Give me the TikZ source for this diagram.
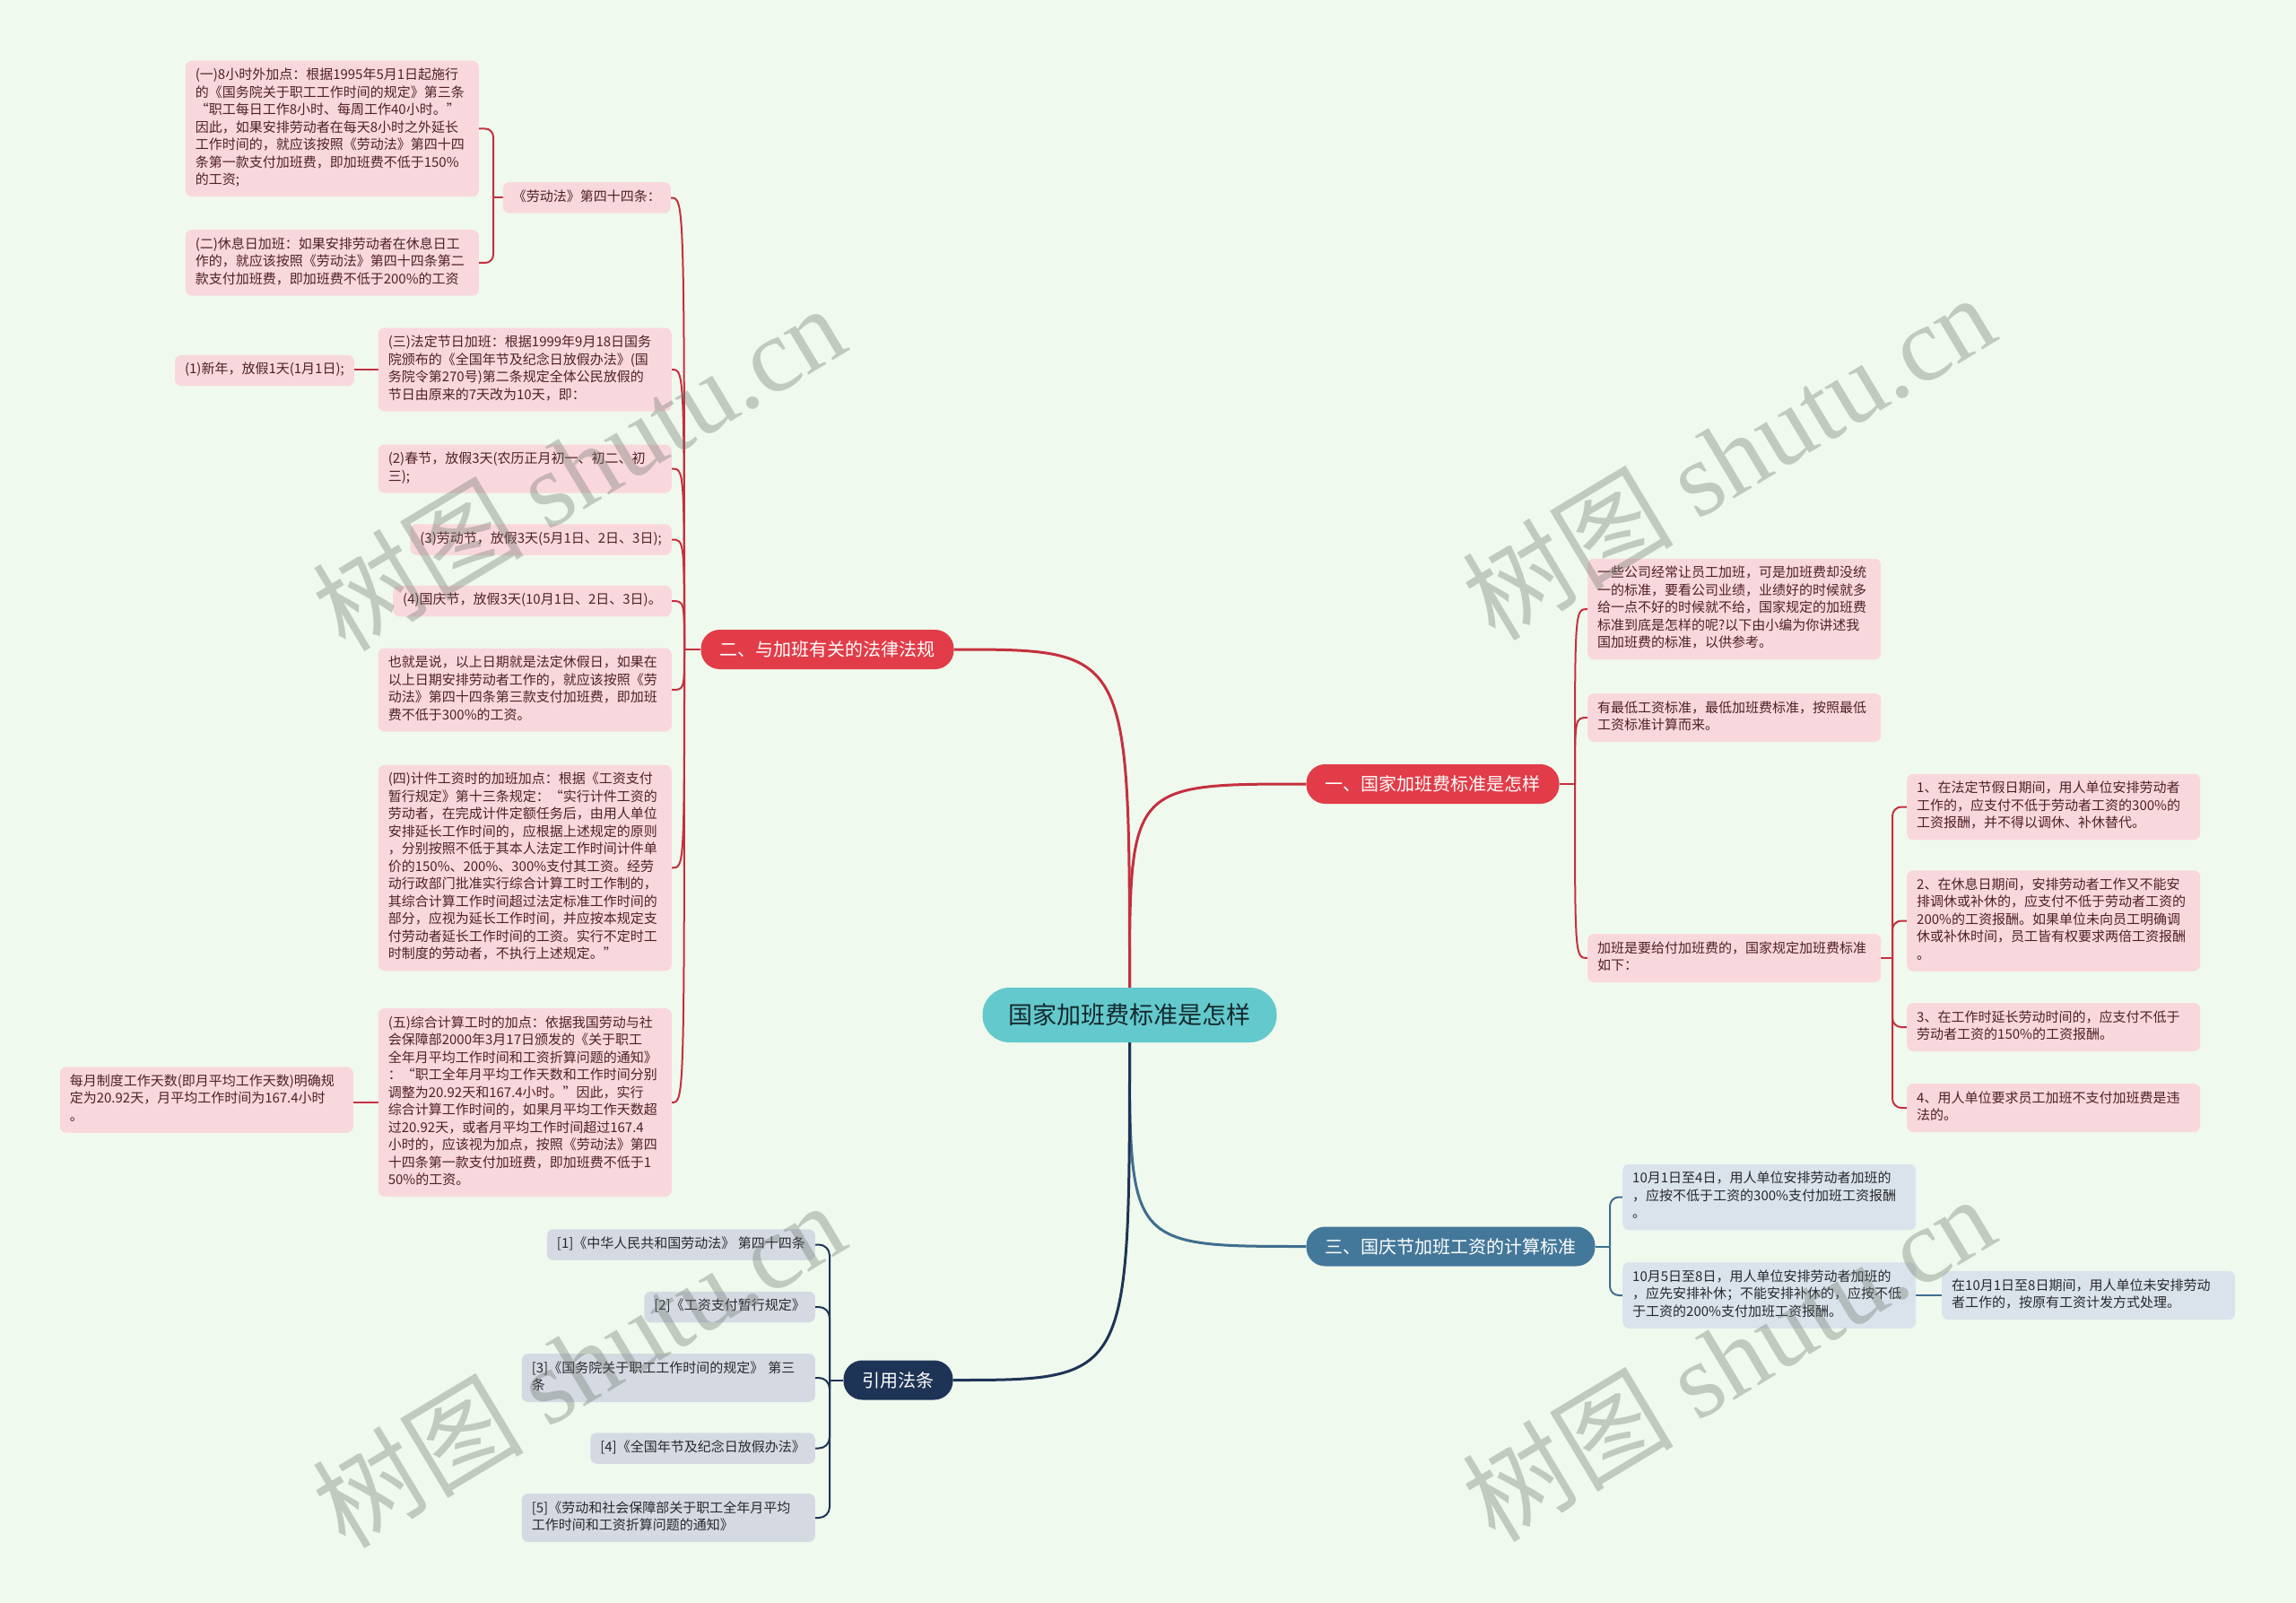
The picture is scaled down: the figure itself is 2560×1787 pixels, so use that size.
\documentclass[tikz,border=0pt]{standalone}
\usepackage{fontspec}
\setmainfont{Noto Sans CJK SC}
\newfontfamily\wmserif{Liberation Serif}
\usetikzlibrary{calc}
\definecolor{bgc}{RGB}{240,249,238}
\definecolor{pinkc}{RGB}{249,216,221}
\definecolor{pinktxt}{RGB}{78,32,38}
\definecolor{greyc}{RGB}{218,227,235}
\definecolor{greyc2}{RGB}{213,218,226}
\definecolor{greytxt}{RGB}{40,40,45}
\definecolor{redb}{RGB}{226,60,72}
\definecolor{redl}{RGB}{196,48,62}
\definecolor{blueb}{RGB}{68,120,154}
\definecolor{bluel}{RGB}{62,110,142}
\definecolor{navyb}{RGB}{30,52,86}
\definecolor{rootc}{RGB}{99,201,204}
\definecolor{roottxt}{RGB}{20,40,45}
\definecolor{wmc}{RGB}{110,120,110}
\pgfdeclarelayer{bgl}
\pgfdeclarelayer{edges}
\pgfdeclarelayer{wm}
\pgfsetlayers{bgl,edges,main,wm}
\begin{document}
\begin{tikzpicture}[x=1pt,y=-1pt,
  box/.style={rounded corners=7, inner xsep=11, inner ysep=7.5,
    font=\fontsize{15}{19.5}\selectfont, align=left,
    execute at begin node=\strut, execute at end node=\strut},
  pk/.style={box, fill=pinkc, text=pinktxt},
  pkw/.style={pk, text width=305},
  gy/.style={box, fill=greyc, text=greytxt},
  gyw/.style={gy, text width=305},
  gf/.style={box, fill=greyc2, text=greytxt},
  gfw/.style={gf, text width=305},
  br/.style={rounded corners=21, minimum height=44, inner xsep=21, inner ysep=0,
    text=white, font=\fontsize{20}{24}\selectfont},
  rootn/.style={rounded corners=30, minimum height=61, minimum width=328, inner ysep=0,
    fill=rootc, text=roottxt, font=\fontsize{27}{30}\selectfont},
  cred/.style={draw=redl, line width=2pt},
  cblue/.style={draw=bluel, line width=2pt},
  cnavy/.style={draw=navyb, line width=2pt},
  wmark/.style={text=wmc, text opacity=0.36, rotate=31, inner sep=0,
    font=\fontsize{118}{124}\selectfont}
]
\useasboundingbox (0,0) rectangle (2560,1787);
\begin{pgfonlayer}{bgl}
\fill[bgc] (0,0) rectangle (2560,1787);
\end{pgfonlayer}

% root and main branches
\node[rootn] (R) at (1259.5,1131.5) {国家加班费标准是怎样};
\node[br, fill=redb] (K1) at (1597.5,874) {一、国家加班费标准是怎样};
\node[br, fill=redb] (K2) at (922.5,724) {二、与加班有关的法律法规};
\node[br, fill=blueb] (K3) at (1617.5,1389.5) {三、国庆节加班工资的计算标准};
\node[br, fill=navyb] (K4) at (1001.5,1538.5) {引用法条};

% left side (branch two)
\node[pkw, anchor=east] (A1) at (534,143.5) {(一)8小时外加点：根据1995年5月1日起施行\\的《国务院关于职工工作时间的规定》第三条\\ “职工每日工作8小时、每周工作40小时。”\\因此，如果安排劳动者在每天8小时之外延长\\工作时间的，就应该按照《劳动法》第四十四\\条第一款支付加班费，即加班费不低于150\%\\的工资;};
\node[pkw, anchor=east] (A2) at (534,293) {(二)休息日加班：如果安排劳动者在休息日工\\作的，就应该按照《劳动法》第四十四条第二\\款支付加班费，即加班费不低于200\%的工资};
\node[pk, anchor=east] (A3) at (748,220.5) {《劳动法》第四十四条：};
\node[pkw, anchor=east] (B1) at (749,412) {(三)法定节日加班：根据1999年9月18日国务\\院颁布的《全国年节及纪念日放假办法》(国\\务院令第270号)第二条规定全体公民放假的\\节日由原来的7天改为10天，即：};
\node[pk, anchor=east] (B1c) at (395,413) {(1)新年，放假1天(1月1日);};
\node[pkw, anchor=east] (B2) at (749,522.5) {(2)春节，放假3天(农历正月初一、初二、初\\三);};
\node[pk, anchor=east] (B3) at (749,601.5) {(3)劳动节，放假3天(5月1日、2日、3日);};
\node[pk, anchor=east] (B4) at (749,670) {(4)国庆节，放假3天(10月1日、2日、3日)。};
\node[pkw, anchor=east] (B5) at (749,769) {也就是说，以上日期就是法定休假日，如果在\\以上日期安排劳动者工作的，就应该按照《劳\\动法》第四十四条第三款支付加班费，即加班\\费不低于300\%的工资。};
\node[pkw, anchor=east] (B6) at (749,967.5) {(四)计件工资时的加班加点：根据《工资支付\\暂行规定》第十三条规定：“实行计件工资的\\劳动者，在完成计件定额任务后，由用人单位\\安排延长工作时间的，应根据上述规定的原则\\，分别按照不低于其本人法定工作时间计件单\\价的150\%、200\%、300\%支付其工资。经劳\\动行政部门批准实行综合计算工时工作制的，\\其综合计算工作时间超过法定标准工作时间的\\部分，应视为延长工作时间，并应按本规定支\\付劳动者延长工作时间的工资。实行不定时工\\时制度的劳动者，不执行上述规定。”};
\node[pkw, anchor=east] (B7) at (749,1229) {(五)综合计算工时的加点：依据我国劳动与社\\会保障部2000年3月17日颁发的《关于职工\\全年月平均工作时间和工资折算问题的通知》\\：“职工全年月平均工作天数和工作时间分别\\调整为20.92天和167.4小时。”因此，实行\\综合计算工作时间的，如果月平均工作天数超\\过20.92天，或者月平均工作时间超过167.4\\小时的，应该视为加点，按照《劳动法》第四\\十四条第一款支付加班费，即加班费不低于1\\50\%的工资。};
\node[pkw, anchor=east] (B7c) at (394,1226) {每月制度工作天数(即月平均工作天数)明确规\\定为20.92天，月平均工作时间为167.4小时\\。};

% right side (branch one)
\node[pkw, anchor=west] (C1) at (1770,679) {一些公司经常让员工加班，可是加班费却没统\\一的标准，要看公司业绩，业绩好的时候就多\\给一点不好的时候就不给，国家规定的加班费\\标准到底是怎样的呢?以下由小编为你讲述我\\国加班费的标准，以供参考。};
\node[pkw, anchor=west] (C2) at (1770,800) {有最低工资标准，最低加班费标准，按照最低\\工资标准计算而来。};
\node[pkw, anchor=west] (C3) at (1770,1068) {加班是要给付加班费的，国家规定加班费标准\\如下：};
\node[pkw, anchor=west] (D1) at (2126,899.5) {1、在法定节假日期间，用人单位安排劳动者\\工作的，应支付不低于劳动者工资的300\%的\\工资报酬，并不得以调休、补休替代。};
\node[pkw, anchor=west] (D2) at (2126,1026.5) {2、在休息日期间，安排劳动者工作又不能安\\排调休或补休的，应支付不低于劳动者工资的\\200\%的工资报酬。如果单位未向员工明确调\\休或补休时间，员工皆有权要求两倍工资报酬\\。};
\node[pkw, anchor=west] (D3) at (2126,1145) {3、在工作时延长劳动时间的，应支付不低于\\劳动者工资的150\%的工资报酬。};
\node[pkw, anchor=west] (D4) at (2126,1235) {4、用人单位要求员工加班不支付加班费是违\\法的。};

% branch three
\node[gyw, anchor=west] (E1) at (1809,1334.5) {10月1日至4日，用人单位安排劳动者加班的\\，应按不低于工资的300\%支付加班工资报酬\\。};
\node[gyw, anchor=west] (E2) at (1809,1444) {10月5日至8日，用人单位安排劳动者加班的\\，应先安排补休；不能安排补休的，应按不低\\于工资的200\%支付加班工资报酬。};
\node[gyw, anchor=west] (E2c) at (2165,1444) {在10月1日至8日期间，用人单位未安排劳动\\者工作的，按原有工资计发方式处理。};

% references
\node[gf, anchor=east] (F1) at (909,1387.5) {[1]《中华人民共和国劳动法》 第四十四条};
\node[gf, anchor=east] (F2) at (909,1457) {[2]《工资支付暂行规定》};
\node[gfw, anchor=east] (F3) at (909,1536) {[3]《国务院关于职工工作时间的规定》 第三\\条};
\node[gf, anchor=east] (F4) at (909,1614.5) {[4]《全国年节及纪念日放假办法》};
\node[gfw, anchor=east] (F5) at (909,1692) {[5]《劳动和社会保障部关于职工全年月平均\\工作时间和工资折算问题的通知》};

\begin{pgfonlayer}{edges}
% root connectors
\draw[redl, line width=3pt] (R.north) .. controls (R.north |- K1.west) .. (K1.west);
\draw[redl, line width=3pt] (R.north) .. controls (R.north |- K2.east) .. (K2.east);
\draw[bluel, line width=3pt] (R.south) .. controls (R.south |- K3.west) .. (K3.west);
\draw[navyb, line width=3pt] (R.south) .. controls (R.south |- K4.east) .. (K4.east);
% branch two
\coordinate (tB) at (763,724);
\draw[cred] (K2.west) -- (tB);
\foreach \c in {A3,B1,B2,B3,B4,B5,B6,B7}
  \draw[cred] (tB) .. controls (tB |- \c.east) .. (\c.east);
\coordinate (tA) at (550,220.5);
\draw[cred] (A3.west) -- (tA);
\draw[cred, rounded corners=9] (tA) |- (A1.east);
\draw[cred, rounded corners=9] (tA) |- (A2.east);
\draw[cred] (B1.west) -- (B1.west -| B1c.east);
\draw[cred] (B7.west) -- (B7.west -| B7c.east);
% branch one
\coordinate (tC) at (1756,874);
\draw[cred] (K1.east) -- (tC);
\foreach \c in {C1,C2,C3}
  \draw[cred] (tC) .. controls (tC |- \c.west) .. (\c.west);
\coordinate (tD) at (2110,1068);
\draw[cred] (C3.east) -- (tD);
\foreach \c in {D1,D2,D3,D4}
  \draw[cred, rounded corners=10] (tD) |- (\c.west);
% branch three
\coordinate (tE) at (1795,1389.5);
\draw[cblue] (K3.east) -- (tE);
\foreach \c in {E1,E2}
  \draw[cblue, rounded corners=10] (tE) |- (\c.west);
\draw[cblue] (E2.east) -- (E2c.west);
% references
\coordinate (tF) at (925,1538.5);
\draw[cnavy] (K4.west) -- (tF);
\foreach \c in {F1,F2,F3,F4,F5}
  \draw[cnavy, rounded corners=12] (tF) |- (\c.east);
\end{pgfonlayer}

\begin{pgfonlayer}{wm}
\node[wmark] (W1) at (645,520) {树图 {\wmserif shutu.cn}};
\node[wmark] (W2) at (1927,508) {树图 {\wmserif shutu.cn}};
\node[wmark] (W3) at (645,1520) {树图 {\wmserif shutu.cn}};
\node[wmark] (W4) at (1927,1513) {树图 {\wmserif shutu.cn}};
\end{pgfonlayer}
\end{tikzpicture}
\end{document}
